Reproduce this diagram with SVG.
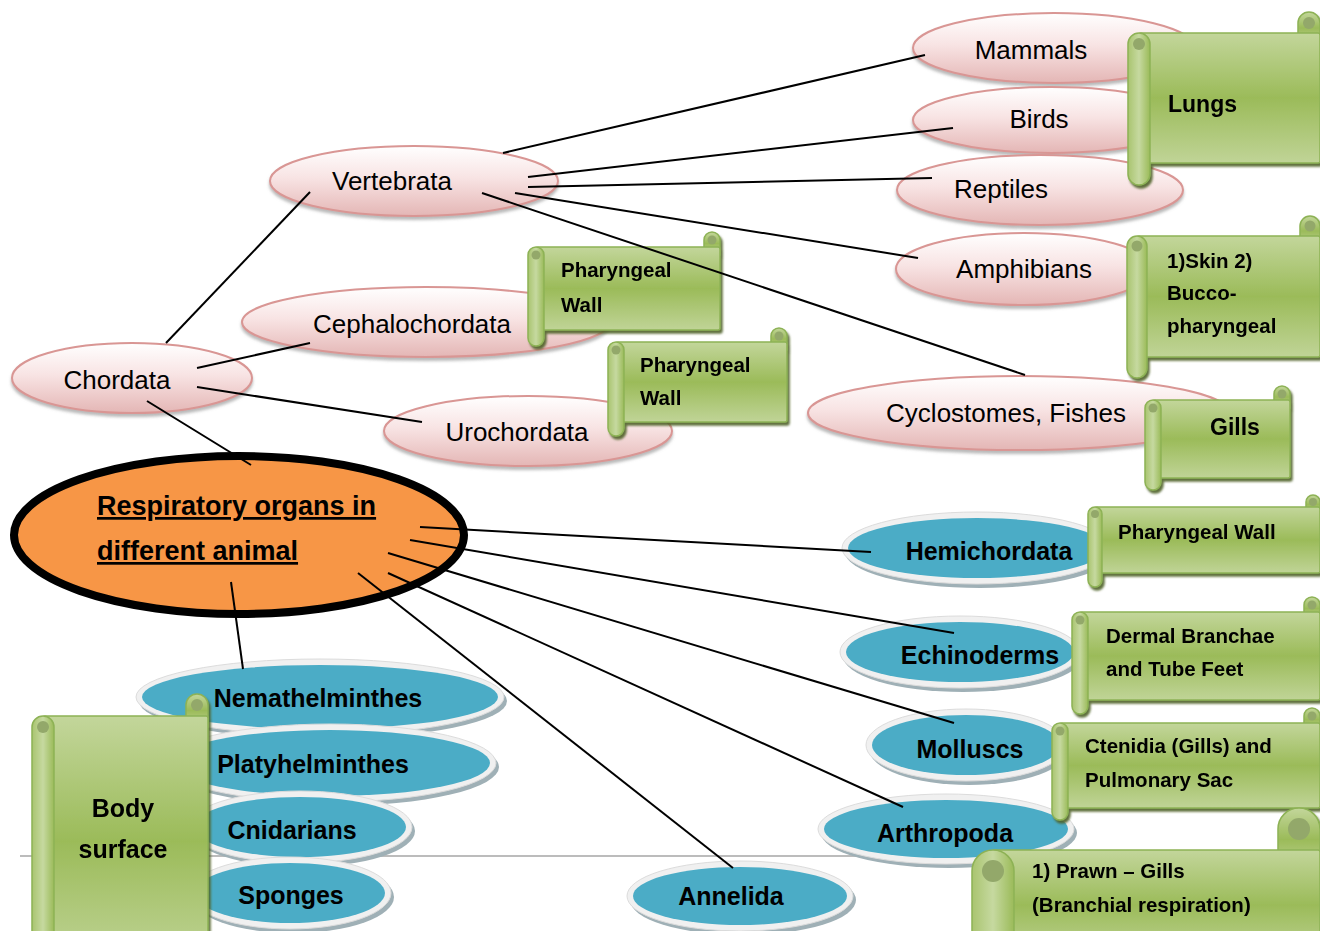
<svg xmlns="http://www.w3.org/2000/svg" width="1320" height="931" viewBox="0 0 1320 931">
<defs>
  <linearGradient id="gPink" x1="0" y1="0" x2="0" y2="1">
    <stop offset="0" stop-color="#ffffff"/>
    <stop offset="0.45" stop-color="#f8e4e4"/>
    <stop offset="1" stop-color="#e4b6b5"/>
  </linearGradient>
  <linearGradient id="gScroll" x1="0" y1="0" x2="0" y2="1">
    <stop offset="0" stop-color="#c3d69b"/>
    <stop offset="0.5" stop-color="#9bbb59"/>
    <stop offset="1" stop-color="#c0d497"/>
  </linearGradient>
  <linearGradient id="gRoll" x1="0" y1="0" x2="1" y2="0">
    <stop offset="0" stop-color="#a9c46f"/>
    <stop offset="0.5" stop-color="#c6d9a0"/>
    <stop offset="1" stop-color="#9bbb59"/>
  </linearGradient>
  <filter id="shPink" x="-10%" y="-20%" width="120%" height="150%">
    <feDropShadow dx="0" dy="3" stdDeviation="1.5" flood-color="#7f7f7f" flood-opacity="0.55"/>
  </filter>
  <filter id="shScroll" x="-10%" y="-10%" width="125%" height="125%">
    <feDropShadow dx="2" dy="3" stdDeviation="0.8" flood-color="#4f6228" flood-opacity="0.9"/>
  </filter>
  <style>
    .pink { fill:url(#gPink); stroke:#d99694; stroke-width:2; filter:url(#shPink); }
    .bsh { fill:#9fb0b6; }
    .rim { fill:#f0f0f0; stroke:#dcdcdc; stroke-width:1; }
    .blue { fill:#4bacc6; }
    .sb { fill:url(#gScroll); stroke:#8db255; stroke-width:1.5; }
    .sr { fill:url(#gRoll); stroke:#8db255; stroke-width:1.5; }
    .si { fill:#93a86b; }
    .scroll { filter:url(#shScroll); }
    text { font-family:"Liberation Sans", Arial, sans-serif; fill:#000; }
    .reg { font-size:26px; text-anchor:middle; }
    .bl { font-size:25px; font-weight:bold; text-anchor:middle; }
    .st { font-size:20.5px; font-weight:bold; }
    .big { font-size:23px; font-weight:bold; }
    .ctr { font-size:27px; font-weight:bold; text-decoration:underline; }
    #connectors line { stroke:#000; stroke-width:2; }
  </style>
</defs>
<rect width="1320" height="931" fill="#ffffff"/>
<line x1="20" y1="856" x2="980" y2="856" stroke="#a6a6a6" stroke-width="1.5"/>

<!-- pink nodes -->
<g id="mammals"><ellipse class="pink" cx="1054" cy="48" rx="141" ry="35"/><text class="reg" x="1031" y="59">Mammals</text></g>
<g id="birds"><ellipse class="pink" cx="1051" cy="120" rx="138" ry="33"/><text class="reg" x="1039" y="128">Birds</text></g>
<g id="reptiles"><ellipse class="pink" cx="1040" cy="190" rx="143" ry="35"/><text class="reg" x="1001" y="198">Reptiles</text></g>
<g id="amphibians"><ellipse class="pink" cx="1024" cy="269" rx="128" ry="36"/><text class="reg" x="1024" y="278">Amphibians</text></g>
<g id="fishes"><ellipse class="pink" cx="1019" cy="413" rx="211" ry="37"/><text class="reg" x="1006" y="422">Cyclostomes, Fishes</text></g>
<g id="vertebrata"><ellipse class="pink" cx="414" cy="181" rx="144" ry="35"/><text class="reg" x="392" y="190">Vertebrata</text></g>
<g id="cephalochordata"><ellipse class="pink" cx="426" cy="322" rx="184" ry="35"/><text class="reg" x="412" y="333">Cephalochordata</text></g>
<g id="chordata"><ellipse class="pink" cx="132" cy="378" rx="120" ry="35"/><text class="reg" x="117" y="389">Chordata</text></g>
<g id="urochordata"><ellipse class="pink" cx="528" cy="431" rx="144" ry="35"/><text class="reg" x="517" y="441">Urochordata</text></g>

<!-- central -->
<g id="central">
  <ellipse cx="239" cy="535" rx="225" ry="79" fill="#f79646" stroke="#000" stroke-width="8"/>
  <text class="ctr" x="97" y="515">Respiratory organs in</text>
  <text class="ctr" x="97" y="560">different animal</text>
</g>

<!-- blue nodes -->
<g id="hemichordata"><ellipse class="bsh" cx="980" cy="552" rx="135" ry="36"/><ellipse class="rim" cx="977" cy="548" rx="135" ry="36"/><ellipse class="blue" cx="977" cy="548" rx="129" ry="30"/><text class="bl" x="989" y="560">Hemichordata</text></g>
<g id="echinoderms"><ellipse class="bsh" cx="963" cy="656" rx="120" ry="36"/><ellipse class="rim" cx="960" cy="652" rx="120" ry="36"/><ellipse class="blue" cx="960" cy="652" rx="114" ry="30"/><text class="bl" x="980" y="664">Echinoderms</text></g>
<g id="molluscs"><ellipse class="bsh" cx="969" cy="749" rx="100" ry="36"/><ellipse class="rim" cx="966" cy="745" rx="100" ry="36"/><ellipse class="blue" cx="966" cy="745" rx="94" ry="30"/><text class="bl" x="970" y="758">Molluscs</text></g>
<g id="arthropoda"><ellipse class="bsh" cx="949" cy="833" rx="128" ry="35"/><ellipse class="rim" cx="946" cy="829" rx="128" ry="35"/><ellipse class="blue" cx="946" cy="829" rx="122" ry="29"/><text class="bl" x="945" y="842">Arthropoda</text></g>
<g id="annelida"><ellipse class="bsh" cx="743" cy="900" rx="113" ry="35"/><ellipse class="rim" cx="740" cy="896" rx="113" ry="35"/><ellipse class="blue" cx="740" cy="896" rx="107" ry="29"/><text class="bl" x="731" y="905">Annelida</text></g>
<g id="nemathelminthes"><ellipse class="bsh" cx="323" cy="701" rx="184" ry="38"/><ellipse class="rim" cx="320" cy="697" rx="184" ry="38"/><ellipse class="blue" cx="320" cy="697" rx="178" ry="32"/><text class="bl" x="318" y="707">Nemathelminthes</text></g>
<g id="platyhelminthes"><ellipse class="bsh" cx="333" cy="767" rx="166" ry="39"/><ellipse class="rim" cx="330" cy="763" rx="166" ry="39"/><ellipse class="blue" cx="330" cy="763" rx="160" ry="33"/><text class="bl" x="313" y="773">Platyhelminthes</text></g>
<g id="cnidarians"><ellipse class="bsh" cx="303" cy="831" rx="112" ry="36"/><ellipse class="rim" cx="300" cy="827" rx="112" ry="36"/><ellipse class="blue" cx="300" cy="827" rx="106" ry="30"/><text class="bl" x="292" y="839">Cnidarians</text></g>
<g id="sponges"><ellipse class="bsh" cx="293" cy="897" rx="101" ry="36"/><ellipse class="rim" cx="290" cy="893" rx="101" ry="36"/><ellipse class="blue" cx="290" cy="893" rx="95" ry="30"/><text class="bl" x="291" y="904">Sponges</text></g>

<!-- scrolls -->
<g id="scroll-lungs" class="scroll">
  <path class="sb" d="M1298 44 V23 A11 11 0 0 1 1320 23 V44 Z"/><circle class="si" cx="1309" cy="23" r="6"/>
  <rect class="sb" x="1139" y="33" width="181" height="130" rx="2"/>
  <rect class="sr" x="1128" y="33" width="22" height="152" rx="11"/><circle class="si" cx="1139" cy="44" r="6"/>
  <text class="big" x="1168" y="112">Lungs</text>
</g>
<g id="scroll-amph" class="scroll">
  <path class="sb" d="M1300 246 V226 A10 10 0 0 1 1320 226 V246 Z"/><circle class="si" cx="1310" cy="226" r="5.5"/>
  <rect class="sb" x="1137" y="236" width="183" height="121" rx="2"/>
  <rect class="sr" x="1127" y="236" width="20" height="142" rx="10"/><circle class="si" cx="1137" cy="246" r="5.5"/>
  <text class="st" x="1167" y="268">1)Skin 2)</text>
  <text class="st" x="1167" y="300">Bucco-</text>
  <text class="st" x="1167" y="333">pharyngeal</text>
</g>
<g id="scroll-gills" class="scroll">
  <path class="sb" d="M1274 408 V394 A8 8 0 0 1 1290 394 V408 Z"/><circle class="si" cx="1282" cy="394" r="4.5"/>
  <rect class="sb" x="1153" y="400" width="137" height="78" rx="2"/>
  <rect class="sr" x="1145" y="400" width="16" height="90" rx="8"/><circle class="si" cx="1153" cy="408" r="4.5"/>
  <text class="big" x="1210" y="435">Gills</text>
</g>
<g id="scroll-ceph" class="scroll">
  <path class="sb" d="M704 255 V240 A8 8 0 0 1 720 240 V255 Z"/><circle class="si" cx="712" cy="240" r="4.5"/>
  <rect class="sb" x="536" y="247" width="184" height="83" rx="2"/>
  <rect class="sr" x="528" y="247" width="16" height="99" rx="8"/><circle class="si" cx="536" cy="255" r="4.5"/>
  <text class="st" x="561" y="277">Pharyngeal</text>
  <text class="st" x="561" y="312">Wall</text>
</g>
<g id="scroll-uro" class="scroll">
  <path class="sb" d="M771 350 V336 A8 8 0 0 1 787 336 V350 Z"/><circle class="si" cx="779" cy="336" r="4.5"/>
  <rect class="sb" x="616" y="342" width="171" height="80" rx="2"/>
  <rect class="sr" x="608" y="342" width="16" height="94" rx="8"/><circle class="si" cx="616" cy="350" r="4.5"/>
  <text class="st" x="640" y="372">Pharyngeal</text>
  <text class="st" x="640" y="405">Wall</text>
</g>
<g id="scroll-hemi" class="scroll">
  <path class="sb" d="M1306 514 V502 A7 7 0 0 1 1320 502 V514 Z"/><circle class="si" cx="1313" cy="502" r="4"/>
  <rect class="sb" x="1095" y="507" width="225" height="66" rx="2"/>
  <rect class="sr" x="1088" y="507" width="14" height="80" rx="7"/><circle class="si" cx="1095" cy="514" r="4"/>
  <text class="st" x="1118" y="539">Pharyngeal Wall</text>
</g>
<g id="scroll-echi" class="scroll">
  <path class="sb" d="M1304 620 V605 A8 8 0 0 1 1320 605 V620 Z"/><circle class="si" cx="1312" cy="605" r="4.5"/>
  <rect class="sb" x="1080" y="612" width="240" height="88" rx="2"/>
  <rect class="sr" x="1072" y="612" width="16" height="102" rx="8"/><circle class="si" cx="1080" cy="620" r="4.5"/>
  <text class="st" x="1106" y="643">Dermal Branchae</text>
  <text class="st" x="1106" y="676">and Tube Feet</text>
</g>
<g id="scroll-cten" class="scroll">
  <path class="sb" d="M1304 731 V716 A8 8 0 0 1 1320 716 V731 Z"/><circle class="si" cx="1312" cy="716" r="4.5"/>
  <rect class="sb" x="1060" y="723" width="260" height="85" rx="2"/>
  <rect class="sr" x="1052" y="723" width="16" height="97" rx="8"/><circle class="si" cx="1060" cy="731" r="4.5"/>
  <text class="st" x="1085" y="753">Ctenidia (Gills) and</text>
  <text class="st" x="1085" y="787">Pulmonary Sac</text>
</g>
<g id="scroll-prawn" class="scroll">
  <path class="sb" d="M1278 871 V829 A21 21 0 0 1 1320 829 V871 Z"/><circle class="si" cx="1299" cy="829" r="11"/>
  <rect class="sb" x="993" y="850" width="327" height="110" rx="2"/>
  <rect class="sr" x="972" y="850" width="42" height="130" rx="21"/><circle class="si" cx="993" cy="871" r="11"/>
  <text class="st" x="1032" y="878">1) Prawn – Gills</text>
  <text class="st" x="1032" y="912">(Branchial respiration)</text>
</g>
<g id="scroll-body" class="scroll">
  <path class="sb" d="M186 727 V705 A11 11 0 0 1 208 705 V727 Z"/><circle class="si" cx="197" cy="705" r="6"/>
  <rect class="sb" x="43" y="716" width="165" height="250" rx="2"/>
  <rect class="sr" x="32" y="716" width="22" height="264" rx="11"/><circle class="si" cx="43" cy="727" r="6"/>
  <text class="bl" x="123" y="817">Body</text>
  <text class="bl" x="123" y="858">surface</text>
</g>

<!-- connectors -->
<g id="connectors">
  <line x1="503" y1="153" x2="925" y2="55"/>
  <line x1="528" y1="177" x2="953" y2="128"/>
  <line x1="528" y1="187" x2="932" y2="178"/>
  <line x1="515" y1="193" x2="918" y2="258"/>
  <line x1="482" y1="193" x2="1025" y2="375"/>
  <line x1="166" y1="343" x2="310" y2="192"/>
  <line x1="197" y1="368" x2="310" y2="343"/>
  <line x1="197" y1="387" x2="422" y2="422"/>
  <line x1="147" y1="401" x2="251" y2="465"/>
  <line x1="420" y1="527" x2="871" y2="552"/>
  <line x1="410" y1="540" x2="954" y2="633"/>
  <line x1="388" y1="553" x2="954" y2="723"/>
  <line x1="388" y1="573" x2="903" y2="807"/>
  <line x1="358" y1="573" x2="733" y2="868"/>
  <line x1="231" y1="582" x2="243" y2="669"/>
</g>
</svg>
